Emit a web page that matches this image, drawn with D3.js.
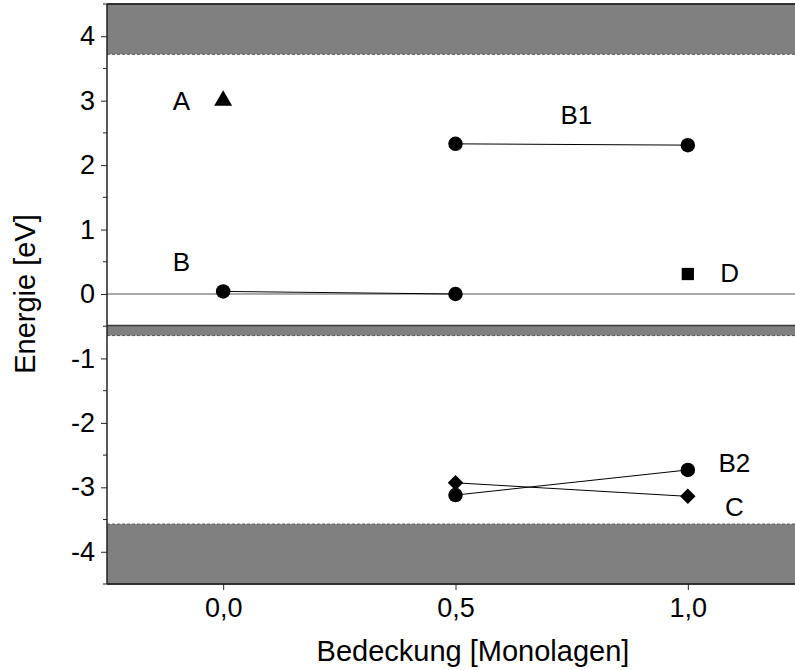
<!DOCTYPE html>
<html>
<head>
<meta charset="utf-8">
<script src="https://cdn.jsdelivr.net/npm/d3@7"></script>
<style>
  html, body { margin: 0; padding: 0; background: #fff; }
  svg { display: block; font-family: "Liberation Sans", Arial, sans-serif; }
</style>
</head>
<body>
<svg id="chart" width="795" height="670"></svg>
<script>
// Coverage (monolayers) and energy levels (eV) of the adsorbate states
const xTicks = [0, 0.5, 1.0];
const yTicks = [-4, -3, -2, -1, 0, 1, 2, 3, 4];
const yMinorTicks = [-4.5, -3.5, -2.5, -1.5, -0.5, 0.5, 1.5, 2.5, 3.5, 4.5];

const stateA = [{x: 0, y: 3.0}];
const stateB = [{x: 0, y: 0.04}, {x: 0.5, y: 0.0}];
const stateB1 = [{x: 0.5, y: 2.33}, {x: 1.0, y: 2.31}];
const stateB2 = [{x: 0.5, y: -3.12}, {x: 1.0, y: -2.73}];
const stateC = [{x: 0.5, y: -2.93}, {x: 1.0, y: -3.14}];
const stateD = [{x: 1.0, y: 0.31}];

// Shaded bands: conduction band, gap region below zero, valence band
const bands = [
  {lo: 3.72, hi: 4.5, solid: "hi", dashed: "lo"},
  {lo: -0.645, hi: -0.49, solid: "hi", dashed: "lo"},
  {lo: -4.5, hi: -3.57, solid: "lo", dashed: "hi"}
];

const stateLabels = [
  {text: "A", x: -0.09, y: 3.0},
  {text: "B", x: -0.09, y: 0.5},
  {text: "B1", x: 0.76, y: 2.78},
  {text: "D", x: 1.09, y: 0.33},
  {text: "B2", x: 1.1, y: -2.62},
  {text: "C", x: 1.1, y: -3.3}
];

const margin = {left: 107, top: 4, bottom: 86};
const W = 795, H = 670;
const x = d3.scaleLinear().domain([-0.25, 1.25]).range([margin.left, margin.left + 697]);
const y = d3.scaleLinear().domain([-4.5, 4.5]).range([H - margin.bottom, margin.top]);

const svg = d3.select("#chart");
const plot = svg.append("g");

// bands
bands.forEach(b => {
  plot.append("rect")
    .attr("x", x(-0.25)).attr("width", x(1.25) - x(-0.25))
    .attr("y", y(b.hi)).attr("height", y(b.lo) - y(b.hi))
    .attr("fill", "#808080");
  plot.append("line")
    .attr("x1", x(-0.25)).attr("x2", x(1.25))
    .attr("y1", y(b[b.solid])).attr("y2", y(b[b.solid]))
    .attr("stroke", "#3a3a3a").attr("stroke-width", 1.5);
  plot.append("line")
    .attr("x1", x(-0.25)).attr("x2", x(1.25))
    .attr("y1", y(b[b.dashed])).attr("y2", y(b[b.dashed]))
    .attr("stroke", "#555").attr("stroke-width", 1)
    .attr("stroke-dasharray", "3,2");
});

// zero line
plot.append("line")
  .attr("x1", x(-0.25)).attr("x2", x(1.25))
  .attr("y1", y(0)).attr("y2", y(0))
  .attr("stroke", "#555").attr("stroke-width", 1);

// connecting lines
const line = d3.line().x(d => x(d.x)).y(d => y(d.y));
[stateB, stateB1, stateB2, stateC].forEach(s => {
  plot.append("path").attr("d", line(s))
    .attr("fill", "none").attr("stroke", "#000").attr("stroke-width", 1);
});

// markers
const drawMarks = (data, type, size, rot = 0) => {
  plot.selectAll(null).data(data).enter().append("path")
    .attr("transform", d => `translate(${x(d.x)},${y(d.y)}) rotate(${rot})`)
    .attr("d", d3.symbol().type(type).size(size)())
    .attr("fill", "#000");
};
drawMarks(stateA, d3.symbolTriangle, 140);
drawMarks(stateB, d3.symbolCircle, 165);
drawMarks(stateB1, d3.symbolCircle, 165);
drawMarks(stateB2, d3.symbolCircle, 165);
drawMarks(stateC, d3.symbolSquare, 120, 45);
drawMarks(stateD, d3.symbolSquare, 150);

// state labels
plot.selectAll(null).data(stateLabels).enter().append("text")
  .attr("x", d => x(d.x)).attr("y", d => y(d.y))
  .attr("text-anchor", "middle").attr("dominant-baseline", "central")
  .attr("font-size", 26).attr("fill", "#000")
  .text(d => d.text);

// frame: left, top, bottom
const frame = svg.append("g").attr("stroke", "#222").attr("stroke-width", 1.5);
frame.append("line").attr("x1", x(-0.25)).attr("x2", x(-0.25)).attr("y1", y(4.5)).attr("y2", y(-4.5));
frame.append("line").attr("x1", x(-0.25)).attr("x2", x(1.25)).attr("y1", y(4.5)).attr("y2", y(4.5));
frame.append("line").attr("x1", x(-0.25)).attr("x2", x(1.25)).attr("y1", y(-4.5)).attr("y2", y(-4.5));

// y axis
const yAxis = svg.append("g").attr("transform", `translate(${x(-0.25)},0)`)
  .call(d3.axisLeft(y).tickValues(yTicks).tickSize(6).tickPadding(6)
        .tickFormat(d => d < 0 ? "-" + Math.abs(d) : String(d)));
yAxis.select(".domain").remove();
yAxis.selectAll("text").attr("font-size", 27).attr("font-family", "Liberation Sans, Arial, sans-serif").attr("fill", "#000");
yAxis.selectAll("line").attr("stroke", "#222");
svg.append("g").selectAll("line").data(yMinorTicks).enter().append("line")
  .attr("x1", x(-0.25) - 4).attr("x2", x(-0.25))
  .attr("y1", d => y(d)).attr("y2", d => y(d))
  .attr("stroke", "#222");

// x axis
const xAxis = svg.append("g").attr("transform", `translate(0,${y(-4.5)})`)
  .call(d3.axisBottom(x).tickValues(xTicks).tickSize(6).tickPadding(8)
        .tickFormat(d => d3.format(".1f")(d).replace(".", ",")));
xAxis.select(".domain").remove();
xAxis.selectAll("text").attr("font-size", 27).attr("font-family", "Liberation Sans, Arial, sans-serif").attr("fill", "#000");
xAxis.selectAll("line").attr("stroke", "#222");

// axis titles
svg.append("text")
  .attr("x", 473).attr("y", 661)
  .attr("text-anchor", "middle").attr("font-size", 29)
  .text("Bedeckung [Monolagen]");
svg.append("text")
  .attr("transform", `translate(35,${y(0)}) rotate(-90)`)
  .attr("text-anchor", "middle").attr("font-size", 29)
  .text("Energie [eV]");
</script>
</body>
</html>
